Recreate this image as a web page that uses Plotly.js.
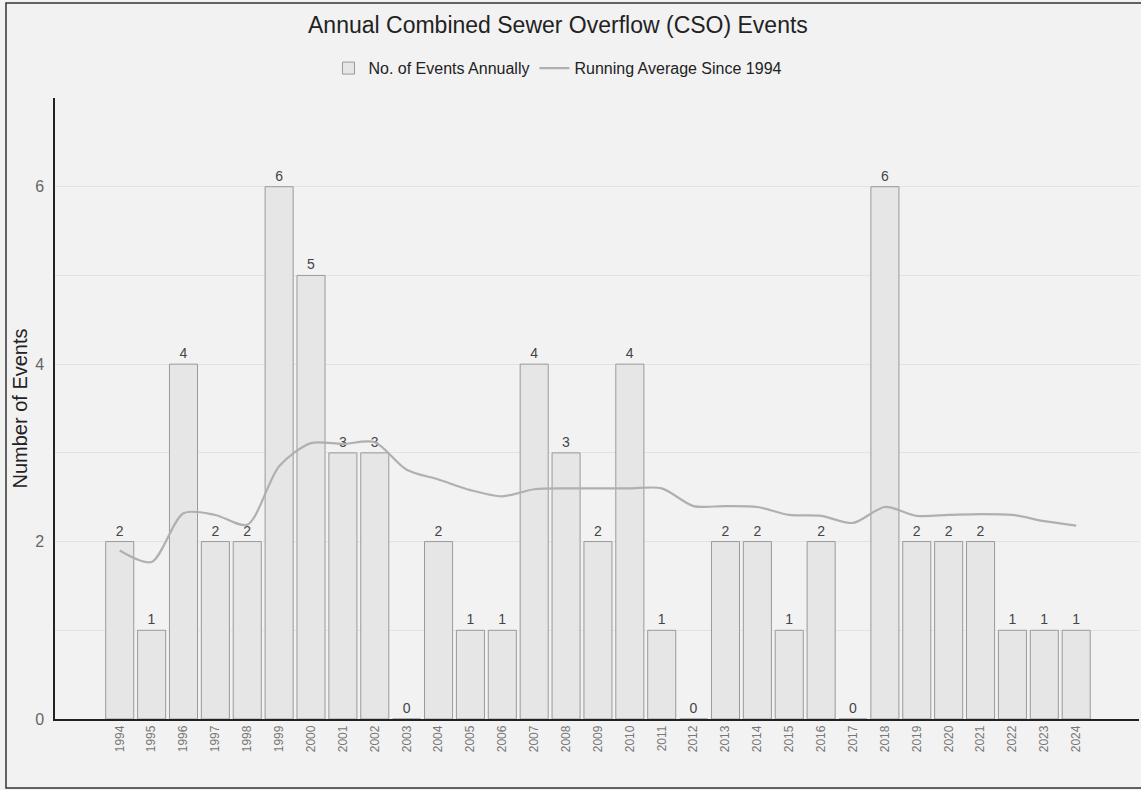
<!DOCTYPE html>
<html>
<head>
<meta charset="utf-8">
<script src="https://cdn.plot.ly/plotly-3.0.1.min.js"></script>
<style>
  html, body { margin: 0; padding: 0; background: #f2f2f2; }
  #chart { width: 1141px; height: 790px; }
</style>
</head>
<body>
<div id="chart"></div>
<script>
// Annual CSO event counts, 1994–2024
const years = ['1994','1995','1996','1997','1998','1999','2000','2001','2002','2003',
               '2004','2005','2006','2007','2008','2009','2010','2011','2012','2013',
               '2014','2015','2016','2017','2018','2019','2020','2021','2022','2023','2024'];
const events = [2, 1, 4, 2, 2, 6, 5, 3, 3, 0,
                2, 1, 1, 4, 3, 2, 4, 1, 0, 2,
                2, 1, 2, 0, 6, 2, 2, 2, 1, 1, 1];
// Running average since 1994
const runningAvg = [1.9, 1.77, 2.32, 2.3, 2.19, 2.85, 3.11, 3.1, 3.12, 2.81,
                    2.7, 2.58, 2.51, 2.59, 2.6, 2.6, 2.6, 2.6, 2.4, 2.4,
                    2.39, 2.3, 2.29, 2.21, 2.39, 2.29, 2.3, 2.31, 2.3, 2.23, 2.18];

const yTickVals = [0, 1, 2, 3, 4, 5, 6, 7];
const yTickText = ['0', '', '2', '', '4', '', '6', ''];

const barTrace = {
  type: 'bar',
  name: 'No. of Events Annually',
  x: years,
  y: events,
  text: events.map(String),
  textposition: 'outside',
  cliponaxis: false,
  textfont: { family: 'Liberation Sans, Arial, sans-serif', size: 14, color: '#444' },
  marker: { color: '#e6e6e6', line: { color: '#9a9a9a', width: 1 } },
  hoverinfo: 'x+y'
};

const lineTrace = {
  type: 'scatter',
  mode: 'lines',
  name: 'Running Average Since 1994',
  x: years,
  y: runningAvg,
  line: { color: '#b0b0b0', width: 2.2, shape: 'spline', smoothing: 0.8 }
};

const layout = {
  width: 1141,
  height: 790,
  paper_bgcolor: '#f2f2f2',
  plot_bgcolor: '#f2f2f2',
  font: { family: 'Liberation Sans, Arial, sans-serif', color: '#222' },
  margin: { l: 55, r: 2, t: 98, b: 71, pad: 0 },
  bargap: 0.12,
  showlegend: true,
  title: {
    text: 'Annual Combined Sewer Overflow (CSO) Events',
    font: { size: 23, color: '#222' },
    xref: 'container', x: 0.489, xanchor: 'center',
    yref: 'container', y: 0.968, yanchor: 'middle'
  },
  legend: {
    orientation: 'h',
    xref: 'paper', x: 0.464, xanchor: 'center',
    yref: 'paper', y: 1.048, yanchor: 'middle',
    font: { size: 16, color: '#222' },
    bgcolor: 'rgba(0,0,0,0)',
    traceorder: 'normal'
  },
  xaxis: {
    type: 'category',
    range: [-2.03, 31.97],
    tickangle: -90,
    tickfont: { size: 12, color: '#777' },
    showgrid: false,
    showline: true,
    linecolor: '#222',
    linewidth: 1.5,
    ticks: '',
    fixedrange: true
  },
  yaxis: {
    range: [0, 7],
    tickvals: yTickVals,
    ticktext: yTickText,
    tickfont: { size: 16, color: '#666' },
    ticklabelstandoff: 6,
    showgrid: true,
    gridcolor: '#e2e2e2',
    gridwidth: 1,
    zeroline: false,
    showline: true,
    linecolor: '#222',
    linewidth: 1.5,
    ticks: '',
    title: { text: 'Number of Events', font: { size: 20, color: '#222' }, standoff: 2 },
    fixedrange: true
  },
  shapes: [{
    type: 'rect', xref: 'paper', yref: 'paper',
    x0: -0.0452, x1: 1.2, y0: -0.111, y1: 1.153,
    line: { color: '#333', width: 1.5 },
    fillcolor: 'rgba(0,0,0,0)',
    layer: 'above'
  }]
};

Plotly.newPlot('chart', [barTrace, lineTrace], layout, { displayModeBar: false, responsive: false });
</script>
</body>
</html>
